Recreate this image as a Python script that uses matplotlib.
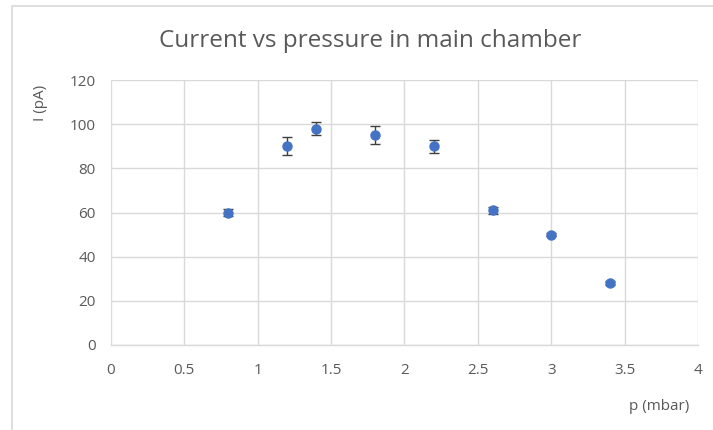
import matplotlib
matplotlib.use("Agg")
import matplotlib.pyplot as plt
from matplotlib.patches import Rectangle

# Measured ion current against main-chamber pressure
pressure_mbar = [0.8, 1.2, 1.4, 1.8, 2.2, 2.6, 3.0, 3.4]
current_pA = [60, 90, 98, 95, 90, 61, 50, 28]
current_err = [1.5, 4, 3, 4, 3, 1.5, 0.8, 0.8]

x_ticks = [0, 0.5, 1, 1.5, 2, 2.5, 3, 3.5, 4]
x_tick_labels = ["0", "0.5", "1", "1.5", "2", "2.5", "3", "3.5", "4"]
y_ticks = [0, 20, 40, 60, 80, 100, 120]

plt.rcParams["font.family"] = ["Open Sans", "DejaVu Sans"]
text_gray = "#595959"
grid_gray = "#d9d9d9"
blue = "#4472C4"

W, H = 713, 430
fig = plt.figure(figsize=(W / 100, H / 100), dpi=100)
fig.patch.set_facecolor("white")

# Chart-area frame
fig.patches.append(Rectangle((12 / W, -0.1), 1.2, 1 - 6 / H + 0.1,
                             transform=fig.transFigure, fill=False,
                             edgecolor=grid_gray, linewidth=1.2))

left, right, top, bottom = 111, 698, 80, 345
ax = fig.add_axes([left / W, 1 - bottom / H, (right - left) / W, (bottom - top) / H])
ax.set_xlim(0, 4)
ax.set_ylim(0, 120)
ax.set_xticks(x_ticks)
ax.set_xticklabels(x_tick_labels)
ax.set_yticks(y_ticks)
ax.grid(True, color=grid_gray, linewidth=1.0)
ax.set_axisbelow(True)
for s in ["top", "right", "left"]:
    ax.spines[s].set_visible(False)
ax.spines["bottom"].set_color(grid_gray)
ax.spines["bottom"].set_linewidth(1.0)
ax.tick_params(length=0, labelsize=11, colors=text_gray)
ax.tick_params(axis="x", pad=13)
ax.tick_params(axis="y", pad=11)

ax.errorbar(pressure_mbar, current_pA, yerr=current_err, fmt="o",
            color=blue, markersize=6.5, ecolor="#404040", elinewidth=1.0,
            capsize=3.5, capthick=1.0, zorder=3)

fig.text(370 / W, 1 - 41 / H, "Current vs pressure in main chamber",
         ha="center", va="center", fontsize=17.5, color=text_gray)
fig.text(40 / W, 1 - 103 / H, "I (pA)", rotation=90, ha="center",
         va="center", fontsize=11, color=text_gray)
fig.text(689 / W, 1 - 407 / H, "p (mbar)", ha="right", va="center",
         fontsize=11, color=text_gray)

fig.savefig("out.png", dpi=100, facecolor="white")
